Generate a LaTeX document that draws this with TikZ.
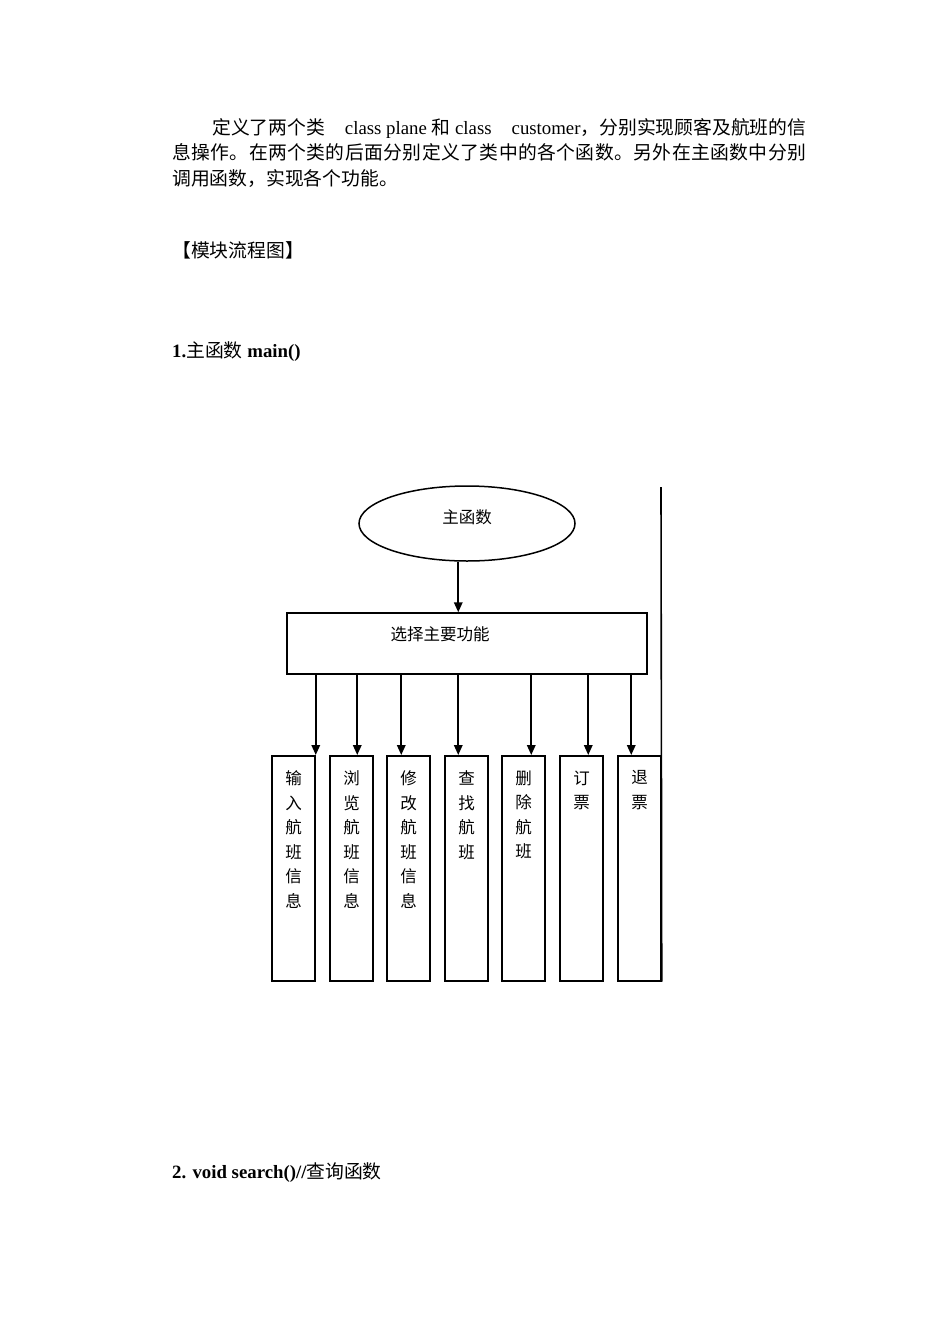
\documentclass[tikz,border=0pt]{standalone}
\usepackage{fontspec}
\setmainfont{Liberation Serif}
\newfontfamily\cjk{Noto Sans CJK SC}
\usetikzlibrary{shapes.geometric,arrows.meta}
\def\spread#1{\spreadA#1\spreadend}
\def\spreadA#1#2\spreadend{#1\if\relax\detokenize{#2}\relax\else\hfil\spreadA#2\spreadend\fi}
\newcommand\vtext[1]{\parbox[c][225pt][t]{43pt}{\centering\vspace*{15pt}\cjk#1}}
\begin{document}
\begin{tikzpicture}[x=1pt,y=1pt,
  txt/.style={anchor=base west,inner sep=0pt,font=\fontsize{18.8}{25}\selectfont},
  dfont/.style={font=\fontsize{16.5}{24.5}\selectfont},
  shp/.style={draw,line width=1.5pt,inner sep=0pt,dfont,text height=0pt,text depth=0pt},
  fbox/.style={draw,line width=1.5pt,inner sep=0pt,dfont,minimum width=43pt,minimum height=225pt,anchor=north},
  arr/.style={line width=1.7pt,-{Triangle[width=8.5pt,length=10pt]}},
  ln/.style={line width=1.6pt}]
\useasboundingbox (0,0) rectangle (950,-1344);
% paragraph
\node[txt] (p1) at (212,-134) {\hbox to 594pt{\cjk 定义了两个类\hfil\rmfamily class plane \cjk 和\rmfamily\ class\hfil customer\cjk ，分别实现顾客及航班的信}};
\node[txt] (p2) at (172,-159) {\hbox to 634pt{\cjk\spread{息操作。在两个类的后面分别定义了类中的各个函数。另外在主函数中分别}}};
\node[txt] (p3) at (172,-185) {\cjk 调用函数，实现各个功能。};
\node[txt] (h1) at (172,-257) {\cjk 【模块流程图】};
\node[txt] (h2) at (172,-357) {\bfseries 1.{\mdseries\cjk 主函数} main()};
\node[txt] (h3) at (172,-1178) {\bfseries 2. void search()//{\mdseries\cjk 查询函数}};
% diagram
\node[shp,ellipse,minimum width=216pt,minimum height=75pt] (main) at (467,-523.5) {\cjk 主函数};
\node[shp,rectangle,minimum width=360pt,minimum height=61pt] (sel) at (467,-643.5) {\raisebox{3pt}{\cjk 选择主要功能}\kern54pt};
\node[fbox] (b1) at (293.5,-755) {\vtext{输\\入\\航\\班\\信\\息}};
\node[fbox] (b2) at (351.5,-755) {\vtext{浏\\览\\航\\班\\信\\息}};
\node[fbox] (b3) at (408.5,-755) {\vtext{修\\改\\航\\班\\信\\息}};
\node[fbox] (b4) at (466.5,-755) {\vtext{查\\找\\航\\班}};
\node[fbox] (b5) at (523.5,-755) {\vtext{删\\除\\航\\班}};
\node[fbox] (b6) at (581.5,-755) {\vtext{订\\票}};
\node[fbox] (b7) at (639.5,-755) {\vtext{退\\票}};
\coordinate (t1) at (b1.north east);
\path (b2.north west) ++(28,0) coordinate (t2);
\path (b3.north west) ++(15,0) coordinate (t3);
\path (b4.north west) ++(14,0) coordinate (t4);
\path (b5.north west) ++(30,0) coordinate (t5);
\path (b6.north west) ++(29,0) coordinate (t6);
\path (b7.north west) ++(14,0) coordinate (t7);
\coordinate (rtop) at (661,-487);
\draw[arr] (main.south -| t4) -- (sel.north -| t4);
\foreach \i in {1,...,7}{\draw[arr] (sel.south -| t\i) -- (t\i);}
\draw[ln] (b7.south east) -- (rtop);
\end{tikzpicture}
\end{document}
